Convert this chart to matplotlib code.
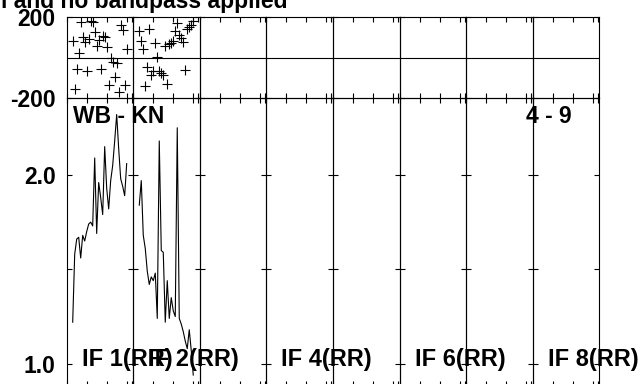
import numpy as np
import matplotlib.pyplot as plt

plt.rcParams['font.family'] = ['Liberation Sans', 'DejaVu Sans']
plt.rcParams['font.weight'] = 'bold'

# channels that carry data (edges flagged)
chans = list(range(3, 31))

# phase (deg) per channel
phase_if1 = [82, -156, -54, 21, 172, 100, 78, -67, 90, 177, 175, 124, 57, 86,
             -58, 106, 100, 50, -136, -4, -21, -95, -26, -169, 160, 133, -136, 41]
phase_if2 = [132, 83, 40, -141, -45, 141, -86, -67, 73, 1, -67, -78, -86, 57,
             -128, 65, 73, 81, 132, 169, 111, 95, 75, -62, 139, 149, 160, 178]

# amplitude per channel
amp_if1 = [1.22, 1.58, 1.66, 1.67, 1.56, 1.68, 1.65, 1.70, 1.74, 1.75, 1.73, 2.09,
           1.69, 1.96, 1.88, 1.79, 2.15, 1.93, 1.82, 1.97, 2.05, 2.18, 2.32, 2.14,
           1.98, 1.94, 1.89, 2.06]
amp_if2 = [1.84, 1.97, 1.68, 1.61, 1.49, 1.42, 1.46, 1.44, 1.48, 1.24, 2.18, 1.60,
           1.59, 1.22, 1.44, 1.24, 1.35, 1.28, 1.25, 2.25, 1.24, 1.21, 1.17, 1.12,
           1.08, 1.18, 1.07, 0.94]

phase_data = [phase_if1, phase_if2, None, None, None, None, None, None]
amp_data = [amp_if1, amp_if2, None, None, None, None, None, None]
if_labels = ['IF 1(RR)', 'IF 2(RR)', '', 'IF 4(RR)', '', 'IF 6(RR)', '', 'IF 8(RR)']

baseline_txt = 'WB - KN'
time_txt = '4 - 9'
title_txt = 'l and no bandpass applied'

W, H = 642, 384
fig = plt.figure(figsize=(W / 100, H / 100), dpi=100)

x0, x1 = 66.7, 599.3
pw = (x1 - x0) / 8
fs = 16.5
lw = 0.8

def style(ax):
    ax.patch.set_visible(False)
    for s in ax.spines.values():
        s.set_linewidth(lw)
    ax.tick_params(direction='in', length=3.8, width=lw, top=True, right=True,
                   labelbottom=False, labelsize=fs, pad=8)
    ax.set_xlim(0, 33.3)
    ax.set_xticks([0, 10, 20, 30, 32.5])

for i in range(8):
    left = (x0 + i * pw) / W
    axp = fig.add_axes([left, (H - 98.3) / H, pw / W, (98.3 - 16.7) / H])
    axa = fig.add_axes([left, (H - 386) / H, pw / W, (386 - 98.3) / H])

    # phase strip
    style(axp)
    axp.set_ylim(-200, 200)
    axp.set_yticks([-200, 200])
    axp.set_yticklabels(['-200', '200'])
    axp.axhline(0, color='black', lw=lw)
    if phase_data[i] is not None:
        axp.plot(chans, phase_data[i], '+', color='black', ms=7, mew=0.8)

    # amplitude
    style(axa)
    axa.set_ylim(0.882, 2.406)
    axa.set_yticks([1.0, 1.5, 2.0])
    axa.set_yticklabels(['1.0', '', '2.0'])
    if amp_data[i] is not None:
        axa.plot(chans, amp_data[i], color='black', lw=0.8)

    if i > 0:
        axp.tick_params(labelleft=False)
        axa.tick_params(labelleft=False)

    if if_labels[i]:
        axa.text(15 / pw, 20 / 288, if_labels[i], transform=axa.transAxes,
                 fontsize=fs + 0.5, fontweight='bold', ha='left', va='baseline')
    if i == 0:
        axa.text(6 / pw, (386 - 123) / 288, baseline_txt, transform=axa.transAxes,
                 fontsize=fs, fontweight='bold', ha='left', va='baseline')
    if i == 7:
        axa.text((572 - (x0 + 7 * pw)) / pw, (386 - 123) / 288, time_txt,
                 transform=axa.transAxes, fontsize=fs, fontweight='bold',
                 ha='right', va='baseline')

fig.text(1 / W, (H - 8) / H, title_txt, fontsize=fs, fontweight='bold',
         ha='left', va='baseline')

fig.savefig('out.png', dpi=100)
